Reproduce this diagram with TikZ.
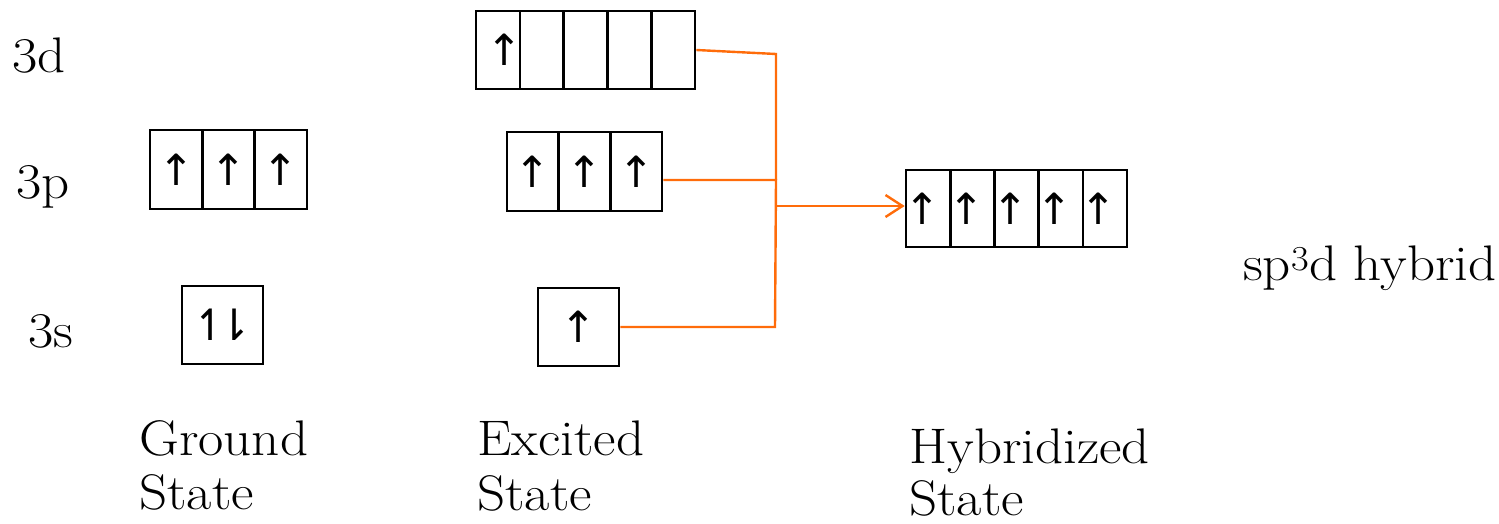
\documentclass[tikz,border=0pt]{standalone}
\usepackage{fontspec}
\setmainfont{Latin Modern Roman}[FakeStretch=1.1]
\newfontfamily\arrowfont{DejaVu Sans}
\usetikzlibrary{arrows.meta}
\definecolor{hyb}{RGB}{255,108,10}
\begin{document}
\begin{tikzpicture}[x=1pt,y=-1pt,
  cell/.style={draw=black,line width=2.6pt,inner sep=0pt,minimum height=78pt,
    font=\arrowfont\fontsize{43}{43}\selectfont},
  lbl/.style={anchor=base west,inner sep=0pt,font=\fontsize{50}{55}\selectfont},
  link/.style={draw=hyb,line width=2.4pt}]
\useasboundingbox (0,0) rectangle (1499,524);
% level labels
\node[lbl] (l3d) at (12,73) {3d};
\node[lbl] (l3p) at (16,198) {3p};
\node[lbl] (l3s) at (28,347) {3s};
% ground state
\node[cell,minimum width=52.3pt,minimum height=79pt] (gp1) at (176.2,169.5) {↑};
\node[cell,minimum width=52.3pt,minimum height=79pt] (gp2) at (228.5,169.5) {↑};
\node[cell,minimum width=52.3pt,minimum height=79pt] (gp3) at (280.8,169.5) {↑};
\node[cell,minimum width=81pt] (gs) at (222.5,325) {↿\kern-12pt⇂};
% excited state
\node[cell,minimum width=43.8pt] (ed1) at (497.9,50) {\makebox[0pt]{\kern14pt↑}};
\node[cell,minimum width=43.8pt] (ed2) at (541.7,50) {};
\node[cell,minimum width=43.8pt] (ed3) at (585.5,50) {};
\node[cell,minimum width=43.8pt] (ed4) at (629.3,50) {};
\node[cell,minimum width=43.8pt] (ed5) at (673.1,50) {};
\node[cell,minimum width=51.7pt,minimum height=79pt] (ep1) at (532.8,171.5) {↑};
\node[cell,minimum width=51.7pt,minimum height=79pt] (ep2) at (584.5,171.5) {↑};
\node[cell,minimum width=51.7pt,minimum height=79pt] (ep3) at (636.2,171.5) {↑};
\node[cell,minimum width=81pt] (es) at (578.5,327) {↑};
% hybridized state
\node[cell,minimum width=44.2pt,minimum height=77pt] (h1) at (928.1,208.5) {\makebox[0pt]{↑\kern12pt}};
\node[cell,minimum width=44.2pt,minimum height=77pt] (h2) at (972.3,208.5) {\makebox[0pt]{↑\kern12pt}};
\node[cell,minimum width=44.2pt,minimum height=77pt] (h3) at (1016.5,208.5) {\makebox[0pt]{↑\kern12pt}};
\node[cell,minimum width=44.2pt,minimum height=77pt] (h4) at (1060.7,208.5) {\makebox[0pt]{↑\kern12pt}};
\node[cell,minimum width=44.2pt,minimum height=77pt] (h5) at (1104.9,208.5) {\makebox[0pt]{↑\kern12pt}};
% connectors
\coordinate (ja) at (776,54);
\coordinate (jb) at (776,180);
\coordinate (jc) at (775,327);
\coordinate (jm) at (776,206);
\draw[link] (ed5.east) -- (ja) -- (jb);
\draw[link] (ep3.east |- jb) -- (jb) -- (jc) -- (es.east |- jc);
\draw[link,-{Straight Barb[length=17pt,width=22pt,line width=2.4pt]}] (jm) -- (jm -| h1.west);
% captions
\node[lbl] (gt1) at (139,455) {Ground};
\node[lbl] (gt2) at (139,509) {State};
\node[lbl] (et1) at (477,455) {Excited};
\node[lbl] (et2) at (477,510) {State};
\node[lbl] (ht1) at (909,463) {Hybridized};
\node[lbl] (ht2) at (909,515) {State};
\node[lbl] (sp) at (1243,280) {sp\textsuperscript{3}d hybrid};
\end{tikzpicture}
\end{document}
